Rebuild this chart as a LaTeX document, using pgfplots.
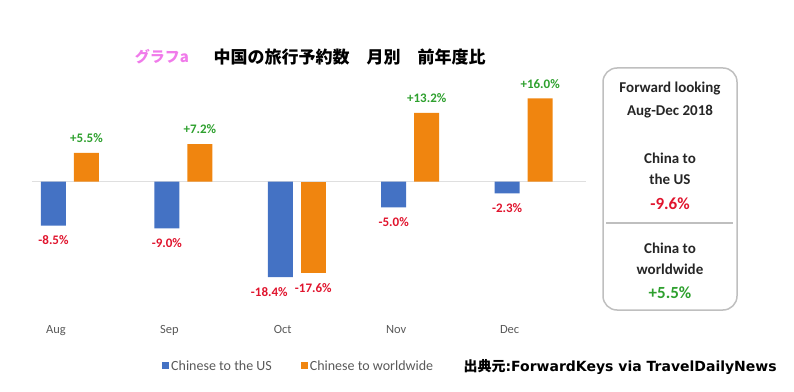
\documentclass[border=0pt]{standalone}
\usepackage{pgfplots}
\pgfplotsset{compat=1.18}
\usepackage{fontspec}
\setmainfont{Carlito}
\newfontfamily\jp{Noto Sans CJK JP}
\newfontfamily\dvs{DejaVu Sans}
\definecolor{cblue}{HTML}{4472C4}
\definecolor{corange}{HTML}{F0850F}
\definecolor{lred}{HTML}{E0142D}
\definecolor{lgreen}{HTML}{2EA02E}
\definecolor{lgray}{HTML}{595959}
\definecolor{pinkt}{HTML}{F07BEA}
\definecolor{boxgray}{HTML}{BFBFBF}
\begin{document}
\begin{tikzpicture}[x=1pt,y=1pt]
\path (0,0) rectangle (794,391);
\begin{axis}[
  at={(32pt,71.2pt)}, anchor=south west, scale only axis,
  width=554pt, height=229.8pt,
  xmin=-0.335, xmax=4.55, ymin=-26.6, ymax=17.6,
  axis line style={draw=none},
  ytick=\empty,
  xtick={0,1,2,3,4}, xticklabels={Aug,Sep,Oct,Nov,Dec},
  major tick length=0pt,
  xticklabel style={font=\fontsize{12.5}{13}\selectfont, text=lgray, xshift=-14pt, yshift=-2pt},
  extra y ticks={0}, extra y tick labels={},
  extra y tick style={grid=major},
  major grid style={draw=gray!25, line width=1.8pt},
  point meta=explicit symbolic,
  nodes near coords,
  every node near coord/.append style={font=\bfseries\fontsize{13}{14}\selectfont, inner xsep=0pt, inner ysep=10pt, text height=9pt, text depth=0pt},
  legend style={at={(0.2347,-0.201)}, anchor=west, draw=none, fill=none, inner sep=0pt,
    font=\fontsize{14}{15}\selectfont, text=lgray,
    /tikz/every even column/.append style={column sep=27pt}},
  legend columns=2,
  legend image code/.code={\fill[#1] (0pt,-3.5pt) rectangle (7pt,3.5pt);},
]
\addplot[ybar, bar width=25pt, bar shift=-16.5pt, fill=cblue, draw=none,
  every node near coord/.append style={text=lred, anchor=north, xshift=-16.5pt}]
  coordinates {(0,-8.5) [-8.5\%] (1,-9.0) [-9.0\%] (2,-18.4) [\hspace*{-22pt}-18.4\%] (3,-5.0) [-5.0\%] (4,-2.3) [-2.3\%]};
\addlegendentry{Chinese to the US}
\addplot[ybar, bar width=25pt, bar shift=16.5pt, fill=corange, draw=none,
  every node near coord/.append style={text=lgreen, anchor=south, xshift=16.5pt}]
  coordinates {(0,5.5) [+5.5\%] (1,7.2) [+7.2\%] (3,13.2) [+13.2\%] (4,16.0) [+16.0\%]};
\addlegendentry{Chinese to worldwide}
\addplot[ybar, bar width=25pt, bar shift=16.5pt, fill=corange, draw=none, forget plot,
  every node near coord/.append style={text=lred, anchor=north, xshift=16.5pt}]
  coordinates {(2,-17.6) [-17.6\%]};
\end{axis}
% title
\node[text=pinkt, font=\jp\bfseries\fontsize{15}{16}\selectfont] at (162,334) {グラフa};
\node[font=\jp\bfseries\fontsize{17}{18}\selectfont, anchor=west] at (210,334) {中国の旅行予約数\hspace{1em}月別\hspace{1em}前年度比};
% right box
\draw[boxgray, line width=1.5pt, rounded corners=14pt] (603,323) rectangle (737,81);
\draw[boxgray, line width=2pt] (606,168) -- (733,168);
\begin{scope}[every node/.style={font=\bfseries\fontsize{15}{16}\selectfont, text=black!85}]
\node at (670,302) {Forward looking};
\node at (670,279) {Aug-Dec 2018};
\node at (670,233) {China to};
\node at (670,212) {the US};
\node[text=lred, font=\bfseries\fontsize{17}{18}\selectfont] at (670,187) {-9.6\%};
\node at (670,143) {China to};
\node at (670,122) {worldwide};
\node[text=lgreen, font=\bfseries\fontsize{17}{18}\selectfont] at (670,98) {+5.5\%};
\end{scope}
% source
\node[anchor=west, font=\bfseries\fontsize{14}{15}\selectfont] at (460,24) {{\jp 出典元}{\dvs :ForwardKeys via TravelDailyNews}};
\end{tikzpicture}
\end{document}
